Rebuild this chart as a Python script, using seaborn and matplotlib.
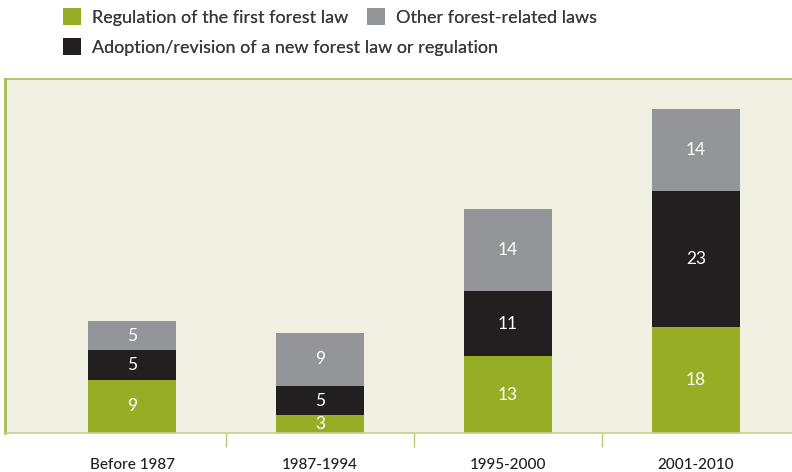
import matplotlib
matplotlib.use("Agg")
import matplotlib.pyplot as plt
from matplotlib.patches import Patch
import pandas as pd
import seaborn as sns

periods = ["Before 1987", "1987-1994", "1995-2000", "2001-2010"]
first_law = [9, 3, 13, 18]
new_law = [5, 5, 11, 23]
other_laws = [5, 9, 14, 14]

series_names = [
    "Regulation of the first forest law",
    "Adoption/revision of a new forest law or regulation",
    "Other forest-related laws",
]
colors = ["#97ad26", "#231f20", "#939598"]

sns.set_theme(style="white")
plt.rcParams["font.family"] = ["Lato", "DejaVu Sans"]

df = pd.DataFrame({
    "period": periods,
    "first": first_law,
    "new": new_law,
    "other": other_laws,
})
df["c1"] = df["first"]
df["c2"] = df["first"] + df["new"]
df["c3"] = df["c2"] + df["other"]

fig = plt.figure(figsize=(7.92, 4.72), dpi=100)
ax = fig.add_axes([5 / 792, 39 / 472, 1 - 5 / 792, (433 - 79) / 472])
ax.set_facecolor("#f0f1e3")

# cumulative layers, tallest first so each lower segment sits on top
for col, color in zip(["c3", "c2", "c1"], [colors[2], colors[1], colors[0]]):
    sns.barplot(data=df, x="period", y=col, color=color, width=0.468,
                saturation=1, linewidth=0, ax=ax, order=periods)

# segment value labels
for i in range(len(periods)):
    segs = [(0, df["c1"][i], first_law[i]),
            (df["c1"][i], df["c2"][i], new_law[i]),
            (df["c2"][i], df["c3"][i], other_laws[i])]
    for lo, hi, v in segs:
        ax.text(i, (lo + hi) / 2, str(v), ha="center", va="center",
                color="white", fontsize=12.5)

ax.set_xlim(-0.676, 3.51)
ax.set_ylim(0, 60)
ax.set_xlabel("")
ax.set_ylabel("")
ax.set_yticks([])

# ticks sit between the categories
ax.set_xticks([0.5, 1.5, 2.5])
ax.set_xticklabels([])
ax.tick_params(axis="x", which="major", direction="out", length=10,
               width=1, color="#b9c97a", bottom=True)
ax.set_xticks(range(len(periods)), minor=True)
ax.set_xticklabels(periods, minor=True, fontsize=11, color="#231f20",
                   fontweight="medium")
ax.tick_params(axis="x", which="minor", length=0, pad=18)

ax.spines["left"].set_color("#a9bb52")
ax.spines["left"].set_linewidth(2)
ax.spines["top"].set_color("#a9bb52")
ax.spines["top"].set_linewidth(1.2)
ax.spines["right"].set_visible(False)
ax.spines["bottom"].set_color("#c3d28a")
ax.spines["bottom"].set_linewidth(1.2)

# legend entries, each placed on its own
legend_spots = [(63, 17), (63, 47), (367, 17)]
for name, color, (px, py) in zip(series_names, colors, legend_spots):
    leg = fig.legend([Patch(facecolor=color, edgecolor="none")], [name],
                     loc="center left",
                     bbox_to_anchor=(px / 792, 1 - py / 472),
                     frameon=False, fontsize=13, handlelength=1.0,
                     handleheight=1.0, handletextpad=0.6, borderpad=0,
                     borderaxespad=0, labelcolor="#3a3a3a")
    fig.add_artist(leg)

fig.savefig("out.png", dpi=100)
